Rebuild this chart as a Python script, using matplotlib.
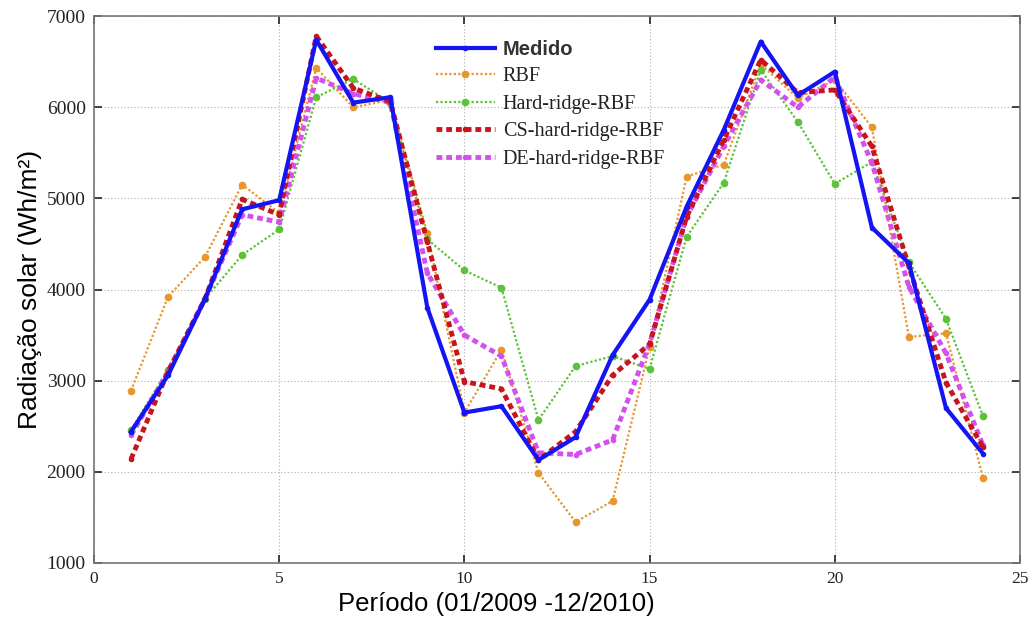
import matplotlib
matplotlib.use("Agg")
import matplotlib.pyplot as plt
from matplotlib.ticker import MultipleLocator

periodo = list(range(1, 25))

medido = [2440, 3060, 3900, 4880, 4980, 6740, 6050, 6110, 3800, 2650, 2720, 2130,
          2380, 3280, 3890, 4910, 5750, 6720, 6130, 6390, 4680, 4290, 2700, 2200]
rbf = [2890, 3920, 4360, 5150, 4840, 6430, 6000, 6080, 4620, 2650, 3340, 1990,
       1450, 1680, 3370, 5240, 5370, 6470, 6100, 6300, 5780, 3480, 3520, 1930]
hard_ridge = [2460, 3120, 3900, 4380, 4660, 6110, 6310, 6050, 4550, 4210, 4020, 2570,
              3160, 3270, 3130, 4580, 5170, 6410, 5840, 5160, 5400, 4300, 3680, 2610]
cs_hard_ridge = [2140, 3100, 3900, 4990, 4820, 6780, 6210, 6060, 4520, 2990, 2910, 2130,
                 2440, 3060, 3400, 4800, 5640, 6520, 6160, 6190, 5570, 4250, 2980, 2270]
de_hard_ridge = [2400, 3100, 3900, 4820, 4740, 6320, 6150, 6050, 4180, 3500, 3270, 2210,
                 2190, 2350, 3410, 4800, 5570, 6300, 6000, 6330, 5390, 4030, 3300, 2290]

series_labels = ["Medido", "RBF", "Hard-ridge-RBF", "CS-hard-ridge-RBF", "DE-hard-ridge-RBF"]

fig = plt.figure(figsize=(10.36, 6.18), dpi=100)
ax = fig.add_axes([0.0907, 0.089, 0.8939, 0.885])

serif = ["Liberation Serif", "DejaVu Serif"]
sans = ["Liberation Sans", "DejaVu Sans"]

ax.plot(periodo, rbf, color="#e8962e", ls=(0, (1, 1)), lw=1.6,
        marker="o", ms=4.5, label=series_labels[1], zorder=2)
ax.plot(periodo, hard_ridge, color="#5cc23a", ls=(0, (1, 1)), lw=1.6,
        marker="o", ms=4.5, label=series_labels[2], zorder=2)
ax.plot(periodo, de_hard_ridge, color="#d450ee", ls=(0, (1.2, 0.8)), lw=3.5,
        marker="o", ms=3, label=series_labels[4], zorder=3)
ax.plot(periodo, cs_hard_ridge, color="#c8141c", ls=(0, (1.2, 0.8)), lw=3.5,
        marker="o", ms=3, label=series_labels[3], zorder=4)
ax.plot(periodo, medido, color="#1414f5", ls="-", lw=3,
        marker="o", ms=3, label=series_labels[0], zorder=5)

ax.set_xlim(0, 25)
ax.set_ylim(1000, 7000)
ax.xaxis.set_major_locator(MultipleLocator(5))
ax.yaxis.set_major_locator(MultipleLocator(1000))
ax.tick_params(direction="in", top=True, right=True, length=6, width=1.2,
               colors="#222222")
ax.tick_params(axis="x", labelsize=12.5, pad=6)
ax.tick_params(axis="y", labelsize=14, pad=6)
for lbl in ax.get_xticklabels() + ax.get_yticklabels():
    lbl.set_family(serif)
ax.grid(True, ls=(0, (1, 2)), color="#b0b0b0", lw=0.8)
for sp in ax.spines.values():
    sp.set_color("#777777")
    sp.set_linewidth(1.2)

ax.set_xlabel("Período (01/2009 -12/2010)", family=sans, fontsize=18.5)
ax.xaxis.set_label_coords(0.435, -0.053, transform=ax.transAxes)
ax.xaxis.label.set_verticalalignment("top")
ax.set_ylabel("Radiação solar (Wh/m²)", family=sans, fontsize=19, labelpad=3)

handles, labels = ax.get_legend_handles_labels()
order = [labels.index(l) for l in series_labels]
leg = ax.legend([handles[i] for i in order], [labels[i] for i in order],
                loc="upper left", bbox_to_anchor=(0.35, 0.99), frameon=False,
                handlelength=2.9, handletextpad=0.4, labelspacing=0.42,
                prop={"family": serif, "size": 14.5})
texts = leg.get_texts()
texts[0].set_family(sans)
texts[0].set_weight("bold")
texts[0].set_color("#333333")
for t in texts[1:]:
    t.set_color("#222222")

fig.savefig("out.png", dpi=100)
